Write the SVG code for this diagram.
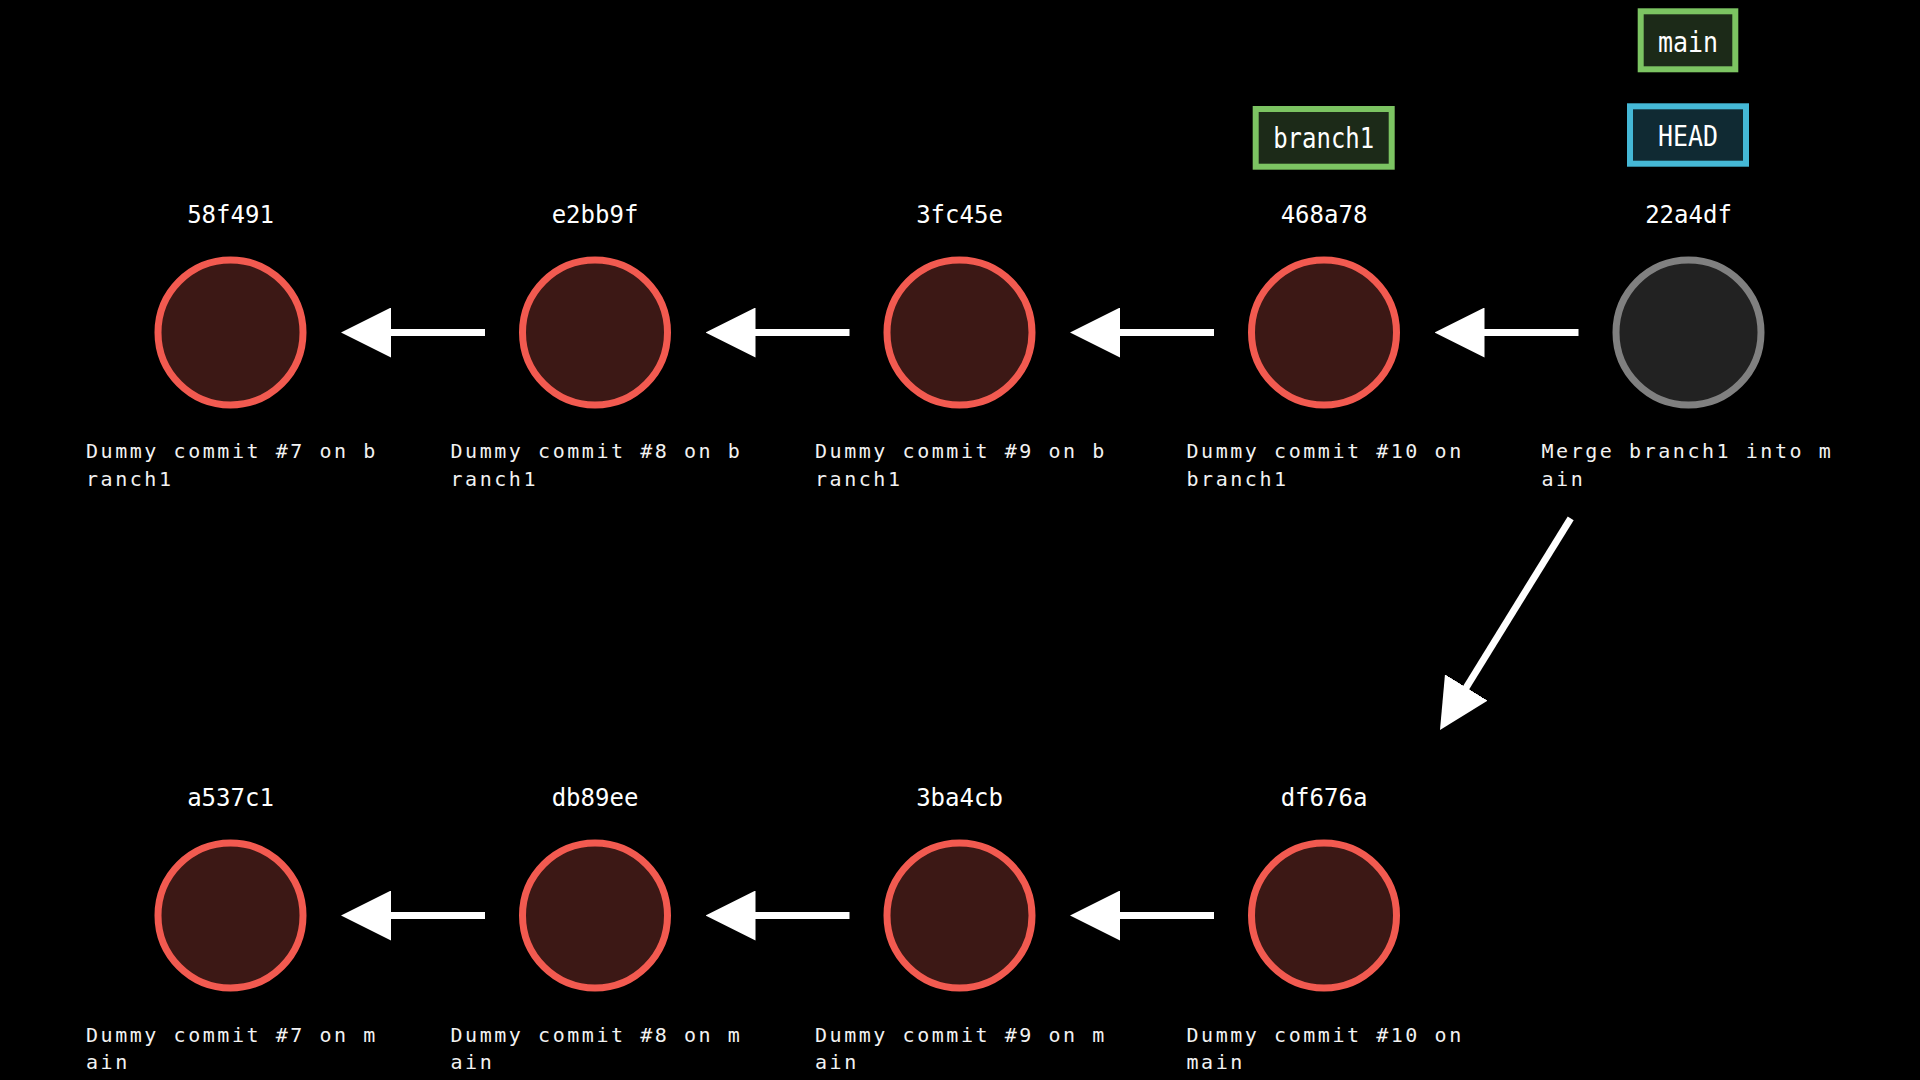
<svg xmlns="http://www.w3.org/2000/svg" width="1920" height="1080" viewBox="0 0 1920 1080">
  <style>
    .commit { fill: #3c1815; stroke: #f25a50; stroke-width: 7; }
    .merge { fill: #222222; stroke: #808080; stroke-width: 7; }
    .hash { font-family: "DejaVu Sans Mono", "Liberation Mono", monospace; font-size: 24px; fill: #ffffff; text-anchor: middle; }
    .msg { font-family: "DejaVu Sans Mono", "Liberation Mono", monospace; font-size: 20px; letter-spacing: 2.55px; fill: #f2f2f2; }
    .tagtxt { font-family: "DejaVu Sans Mono", "Liberation Mono", monospace; font-size: 28px; fill: #ffffff; text-anchor: middle; }
    .branch { fill: #1c2a18; stroke: #7cc462; stroke-width: 6; }
    .head { fill: #102a33; stroke: #45b8d6; stroke-width: 6; }
    .edge { stroke: #ffffff; stroke-width: 7; fill: none; marker-end: url(#ah); }
  </style>
  <defs>
    <marker id="ah" markerUnits="userSpaceOnUse" markerWidth="50" markerHeight="50" viewBox="0 0 50 50" refX="10" refY="25" orient="auto">
      <path d="M0,0 L50,25 L0,50 Z" fill="#ffffff"/>
    </marker>
  </defs>
  <rect x="0" y="0" width="1920" height="1080" fill="#000000"/>

  <g id="connectors">
    <line class="edge" x1="485" y1="332.5" x2="381" y2="332.5"/>
    <line class="edge" x1="849.5" y1="332.5" x2="745.5" y2="332.5"/>
    <line class="edge" x1="1214" y1="332.5" x2="1110" y2="332.5"/>
    <line class="edge" x1="1578.5" y1="332.5" x2="1474.5" y2="332.5"/>
    <line class="edge" x1="1570.7" y1="518.3" x2="1461" y2="696"/>
    <line class="edge" x1="485" y1="915.5" x2="381" y2="915.5"/>
    <line class="edge" x1="849.5" y1="915.5" x2="745.5" y2="915.5"/>
    <line class="edge" x1="1214" y1="915.5" x2="1110" y2="915.5"/>
  </g>

  <g id="commit-58f491">
    <text class="hash" x="230.5" y="222.7">58f491</text>
    <circle class="commit" cx="230.5" cy="332.5" r="72.5"/>
    <text class="msg" x="86" y="458.3">Dummy commit #7 on b</text>
    <text class="msg" x="86" y="485.7">ranch1</text>
  </g>
  <g id="commit-e2bb9f">
    <text class="hash" x="595" y="222.7">e2bb9f</text>
    <circle class="commit" cx="595" cy="332.5" r="72.5"/>
    <text class="msg" x="450.5" y="458.3">Dummy commit #8 on b</text>
    <text class="msg" x="450.5" y="485.7">ranch1</text>
  </g>
  <g id="commit-3fc45e">
    <text class="hash" x="959.5" y="222.7">3fc45e</text>
    <circle class="commit" cx="959.5" cy="332.5" r="72.5"/>
    <text class="msg" x="815" y="458.3">Dummy commit #9 on b</text>
    <text class="msg" x="815" y="485.7">ranch1</text>
  </g>
  <g id="commit-468a78">
    <text class="hash" x="1324" y="222.7">468a78</text>
    <circle class="commit" cx="1324" cy="332.5" r="72.5"/>
    <text class="msg" x="1186.5" y="458.3">Dummy commit #10 on</text>
    <text class="msg" x="1186.5" y="485.7">branch1</text>
  </g>
  <g id="commit-22a4df">
    <text class="hash" x="1688.5" y="222.7">22a4df</text>
    <circle class="merge" cx="1688.5" cy="332.5" r="72.5"/>
    <text class="msg" x="1541.5" y="458.3">Merge branch1 into m</text>
    <text class="msg" x="1541.5" y="485.7">ain</text>
  </g>

  <g id="tag-branch1">
    <rect class="branch" x="1255.7" y="109" width="136" height="57.7"/>
    <text class="tagtxt" x="1323.7" y="148.3" textLength="101" lengthAdjust="spacingAndGlyphs">branch1</text>
  </g>
  <g id="tag-main">
    <rect class="branch" x="1640.7" y="11.3" width="94.6" height="58"/>
    <text class="tagtxt" x="1688" y="51.7" textLength="60" lengthAdjust="spacingAndGlyphs">main</text>
  </g>
  <g id="tag-HEAD">
    <rect class="head" x="1630" y="106.3" width="116" height="57.4"/>
    <text class="tagtxt" x="1688" y="145.7" textLength="60" lengthAdjust="spacingAndGlyphs">HEAD</text>
  </g>

  <g id="commit-a537c1">
    <text class="hash" x="230.5" y="806">a537c1</text>
    <circle class="commit" cx="230.5" cy="915.5" r="72.5"/>
    <text class="msg" x="86" y="1041.7">Dummy commit #7 on m</text>
    <text class="msg" x="86" y="1069">ain</text>
  </g>
  <g id="commit-db89ee">
    <text class="hash" x="595" y="806">db89ee</text>
    <circle class="commit" cx="595" cy="915.5" r="72.5"/>
    <text class="msg" x="450.5" y="1041.7">Dummy commit #8 on m</text>
    <text class="msg" x="450.5" y="1069">ain</text>
  </g>
  <g id="commit-3ba4cb">
    <text class="hash" x="959.5" y="806">3ba4cb</text>
    <circle class="commit" cx="959.5" cy="915.5" r="72.5"/>
    <text class="msg" x="815" y="1041.7">Dummy commit #9 on m</text>
    <text class="msg" x="815" y="1069">ain</text>
  </g>
  <g id="commit-df676a">
    <text class="hash" x="1324" y="806">df676a</text>
    <circle class="commit" cx="1324" cy="915.5" r="72.5"/>
    <text class="msg" x="1186.5" y="1041.7">Dummy commit #10 on</text>
    <text class="msg" x="1186.5" y="1069">main</text>
  </g>
</svg>
